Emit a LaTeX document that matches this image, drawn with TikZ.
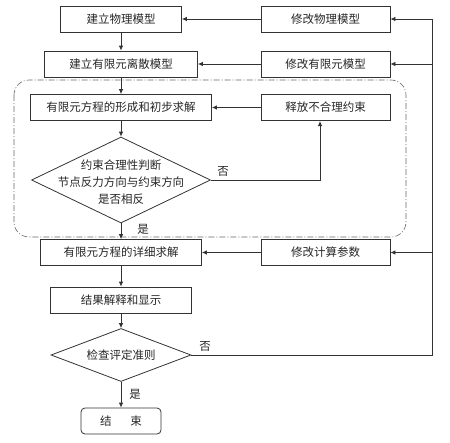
\documentclass[tikz,border=0pt]{standalone}
\usepackage{fontspec}
\setmainfont{Noto Sans CJK SC}
\usetikzlibrary{shapes.geometric,arrows.meta}
\tikzset{box/.style={draw=black!80,line width=0.8pt,minimum height=26pt,inner sep=0pt,
        text=black!85,font=\fontsize{11.5pt}{17pt}\selectfont},
        decide/.style={draw=black!80,line width=0.8pt,shape=diamond,inner sep=0pt},
        note/.style={text=black!85,inner sep=0pt,font=\fontsize{11.5pt}{17pt}\selectfont},
        arr/.style={draw=black!80,line width=0.8pt,-{Latex[length=5pt,width=4.5pt]}},
        wire/.style={draw=black!80,line width=0.8pt},
        group/.style={draw=black!60,line width=0.6pt,rounded corners=15pt,
        dash pattern=on 6pt off 2pt on 1pt off 2pt}}

\begin{document}
\begin{tikzpicture}[x=1pt,y=-1pt]
\useasboundingbox (0,0) rectangle (450,442);
% dash-dot group round the first solving loop
\draw[group] (14,80) rectangle (406,237);
% main column
\node[box,minimum width=121pt] (build) at (121,19) {建立物理模型};
\node[box,minimum width=153pt] (mesh) at (121,64) {建立有限元离散模型};
\node[box,minimum width=181pt] (first) at (121,107.5) {有限元方程的形成和初步求解};
\node[decide,minimum width=179pt,minimum height=86pt] (judge) at (121,180) {};
\node[note,align=center] (judgetext) at (121,182) {约束合理性判断\\节点反力方向与约束方向\\是否相反};
\node[box,minimum width=161pt] (detail) at (121,252.5) {有限元方程的详细求解};
\node[box,minimum width=141pt] (show) at (121,300) {结果解释和显示};
\node[decide,minimum width=140pt,minimum height=53pt] (check) at (121,355) {};
\node[note] (checktext) at (121,355) {检查评定准则};
\node[box,rounded corners=4pt,minimum width=80pt] (stop) at (121,421) {结\hspace{19pt}束};
% right column
\node[box,minimum width=129pt] (fixphys) at (325.5,19) {修改物理模型};
\node[box,minimum width=129pt] (fixmesh) at (325.5,64) {修改有限元模型};
\node[box,minimum width=129pt] (release) at (325.5,107.5) {释放不合理约束};
\node[box,minimum width=129pt] (fixpar) at (325.5,252.5) {修改计算参数};
\coordinate (loop) at (432,19);
\coordinate (up) at (320,121);
% labels
\node[note] (no1) at (223,171) {否};
\node[note] (yes1) at (143,229) {是};
\node[note] (no2) at (205,346) {否};
\node[note] (yes2) at (135,394) {是};
% connectors
\draw[arr] (build) -- (mesh);
\draw[arr] (mesh) -- (first);
\draw[arr] (first) -- (judge);
\draw[arr] (judge) -- (detail);
\draw[arr] (detail) -- (show);
\draw[arr] (show) -- (check);
\draw[arr] (check) -- (stop);
\draw[arr] (fixphys) -- (build);
\draw[arr] (fixmesh) -- (mesh);
\draw[arr] (release) -- (first);
\draw[arr] (fixpar) -- (detail);
\draw[arr] (judge.east) -| (up);
\draw[arr] (check.east) -| (loop) -- (fixphys.east);
\draw[arr] (fixmesh.east -| loop) -- (fixmesh.east);
\draw[arr] (fixpar.east -| loop) -- (fixpar.east);
\end{tikzpicture}
\end{document}
